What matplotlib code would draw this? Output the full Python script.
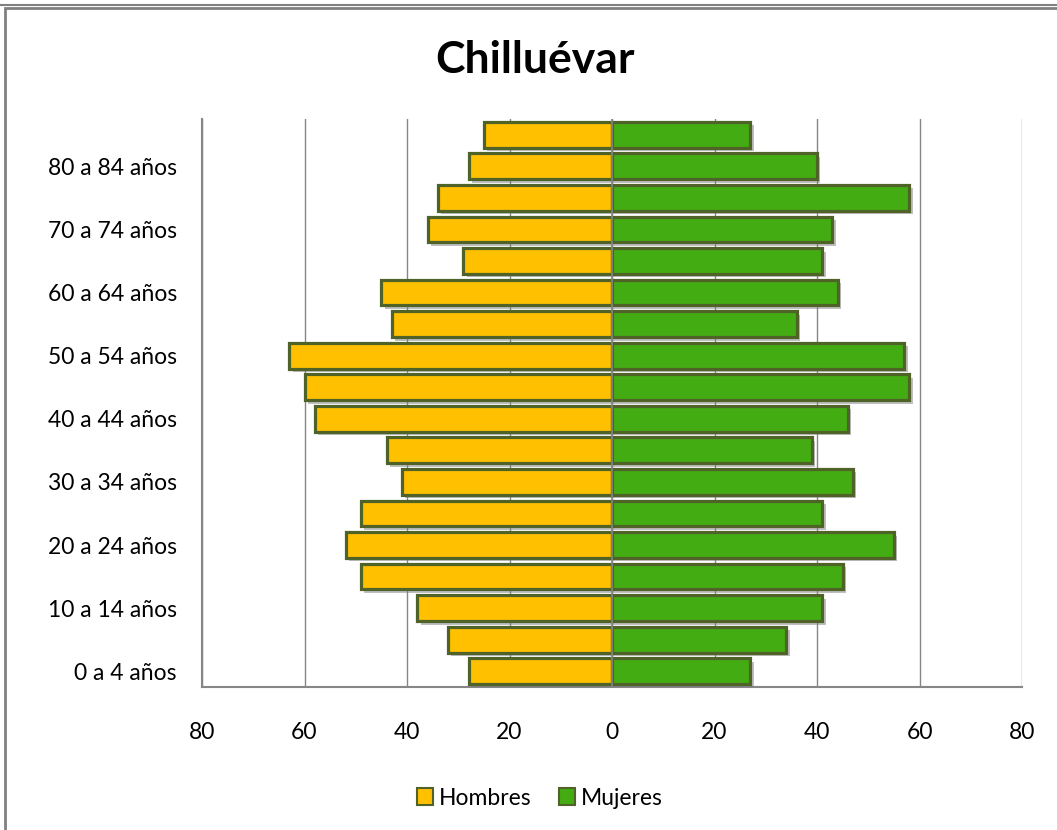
import matplotlib
matplotlib.use("Agg")
import matplotlib.pyplot as plt
import matplotlib.patheffects as pe
from matplotlib.patches import Rectangle, Patch
import numpy as np

plt.rcParams['font.family'] = ['Lato', 'DejaVu Sans']

age_groups = ["0 a 4 años", "5 a 9 años", "10 a 14 años", "15 a 19 años", "20 a 24 años",
              "25 a 29 años", "30 a 34 años", "35 a 39 años", "40 a 44 años", "45 a 49 años",
              "50 a 54 años", "55 a 59 años", "60 a 64 años", "65 a 69 años", "70 a 74 años",
              "75 a 79 años", "80 a 84 años", "85 y más"]
hombres = [28, 32, 38, 49, 52, 49, 41, 44, 58, 60, 63, 43, 45, 29, 36, 34, 28, 25]
mujeres = [27, 34, 41, 45, 55, 41, 47, 39, 46, 58, 57, 36, 44, 41, 43, 58, 40, 27]
x_ticks = [-80, -60, -40, -20, 0, 20, 40, 60, 80]
x_labels = ["80", "60", "40", "20", "0", "20", "40", "60", "80"]

fig = plt.figure(figsize=(10.57, 8.30), dpi=100)
# outer frames
fig.patches.append(Rectangle((5/1057, -0.01), 1.2, 1 - 8/830 + 0.01, transform=fig.transFigure,
                             fill=False, edgecolor='#808080', linewidth=2.0))
fig.patches.append(Rectangle((-0.01, 1 - 5/830), 1.2, 0.1, transform=fig.transFigure,
                             fill=False, edgecolor='#808080', linewidth=1.5))

ax = fig.add_axes([202/1057, 1 - 687/830, 820/1057, 568/830])
y = np.arange(len(age_groups))
shadow = [pe.SimplePatchShadow(offset=(2.5, -2.5), shadow_rgbFace='#808080', alpha=0.5), pe.Normal()]
bh = ax.barh(y, [-v for v in hombres], height=0.82, color='#FFC000', edgecolor='#4F6228',
             linewidth=2.3, zorder=3, label='Hombres')
bm = ax.barh(y, mujeres, height=0.82, color='#43AC12', edgecolor='#4F6228',
             linewidth=2.3, zorder=3, label='Mujeres')
for b in list(bh) + list(bm):
    b.set_path_effects(shadow)

ax.axvline(0, color='#868686', linewidth=1.2, zorder=4)
ax.set_xlim(-80, 80)
ax.set_ylim(-0.5, len(age_groups) - 0.5)
ax.set_xticks(x_ticks)
ax.set_xticklabels(x_labels)
ax.set_yticks(y[::2])
ax.set_yticklabels(age_groups[::2])
ax.grid(axis='x', color='#868686', linewidth=1.0, zorder=0)
ax.tick_params(axis='both', length=0, labelsize=16.5, colors='black')
ax.tick_params(axis='y', pad=18)
ax.tick_params(axis='x', pad=25)
for s in ['top', 'right']:
    ax.spines[s].set_visible(False)
for s in ['left', 'bottom']:
    ax.spines[s].set_color('#868686')
    ax.spines[s].set_linewidth(1.5)

fig.text(535/1057, 1 - 60/830, "Chilluévar", ha='center', va='center', fontsize=32, fontweight='bold')

handles = [Patch(facecolor='#FFC000', edgecolor='#4F6228', linewidth=1.5, label='Hombres'),
           Patch(facecolor='#43AC12', edgecolor='#4F6228', linewidth=1.5, label='Mujeres')]
fig.legend(handles=handles, loc='center', bbox_to_anchor=(540/1057, 1 - 798/830), ncol=2,
           frameon=False, fontsize=16.5, handlelength=0.7, handleheight=0.7, handletextpad=0.25,
           columnspacing=1.2)

fig.savefig("out.png", dpi=100)
